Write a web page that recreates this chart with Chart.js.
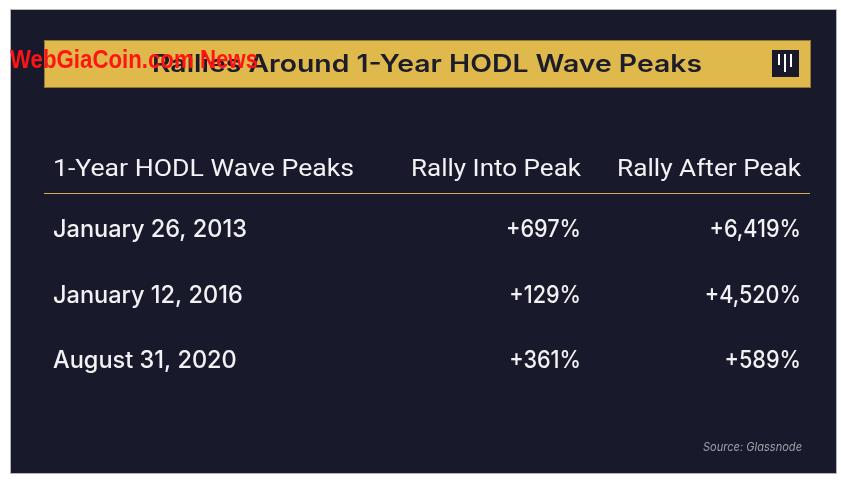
<!DOCTYPE html>
<html>
  <head>
    <script src="https://cdn.jsdelivr.net/npm/chart.js@4.4.1/dist/chart.umd.min.js"></script>
    <style>
      html, body { margin: 0; padding: 0; background: #fff; }
      #wrap { width: 841px; height: 481px; }
    </style>
  </head>
  <body>
    <div id="wrap"><canvas id="canvas" width="841" height="481"></canvas></div>
    <script>
      const title = 'Rallies Around 1-Year HODL Wave Peaks';
      const watermark = 'WebGiaCoin.com News';
      const columns = ['1-Year HODL Wave Peaks', 'Rally Into Peak', 'Rally After Peak'];
      const peaks = ['January 26, 2013', 'January 12, 2016', 'August 31, 2020'];
      const rallyInto = [697, 129, 361];
      const rallyAfter = [6419, 4520, 589];
      const source = 'Source: Glassnode';

      const pct = (v) => '+' + v.toLocaleString('en-US') + '%';

      // column right edges (value columns are right aligned)
      const colRight = [null, 581, 801];

      // draw text; fit.width squeezes to a target width, fit.sx scales by a factor
      function text(ctx, str, x, y, font, color, align, fit) {
        ctx.save();
        ctx.font = font;
        ctx.fillStyle = color;
        ctx.textBaseline = 'middle';
        const w = ctx.measureText(str).width;
        let sx = 1;
        if (fit && fit.width) sx = fit.width / w;
        if (fit && fit.sx) sx = fit.sx;
        const left = align === 'right' ? x - w * sx : x;
        ctx.translate(left, y);
        ctx.scale(sx, 1);
        ctx.textAlign = 'left';
        ctx.fillText(str, 0, 0);
        ctx.restore();
      }

      const tablePlugin = {
        id: 'table',
        beforeDraw(chart) {
          const ctx = chart.ctx;
          ctx.save();
          ctx.fillStyle = '#ffffff';
          ctx.fillRect(0, 0, chart.width, chart.height);
          ctx.fillStyle = '#181a2b';
          ctx.fillRect(11, 10, 825, 463);
          ctx.strokeStyle = '#b4b4bc';
          ctx.lineWidth = 1;
          ctx.strokeRect(10.5, 9.5, 826, 464);

          // gold title bar
          ctx.fillStyle = '#e0b94c';
          ctx.fillRect(44, 40, 767, 48);
          ctx.strokeStyle = '#8f7a3c';
          ctx.strokeRect(44.5, 40.5, 766, 47);

          // logo
          ctx.fillStyle = '#181a2b';
          ctx.fillRect(772, 50, 27, 27);
          ctx.fillStyle = '#ffffff';
          ctx.fillRect(778, 54, 2, 11);
          ctx.fillRect(784, 54, 2, 18);
          ctx.fillRect(790, 54, 2, 13);
          ctx.restore();
        },
        afterDraw(chart) {
          const ctx = chart.ctx;
          const y = chart.scales.y;
          const area = chart.chartArea;
          const headY = area.top - 26;

          text(ctx, title, 152, 65, '600 24px "Inter"', '#1c1c2a', 'left', { width: 550 });

          text(ctx, columns[0], area.left, headY, '400 24px "Roboto"', '#f2f2f4', 'left', { width: 301 });
          text(ctx, columns[1], colRight[1], headY, '400 24px "Roboto"', '#f2f2f4', 'right', { width: 170 });
          text(ctx, columns[2], colRight[2], headY, '400 24px "Roboto"', '#f2f2f4', 'right', { width: 184 });

          ctx.save();
          ctx.strokeStyle = '#cfae55';
          ctx.lineWidth = 1;
          ctx.beginPath();
          ctx.moveTo(44, headY + 23.5);
          ctx.lineTo(810, headY + 23.5);
          ctx.stroke();
          ctx.restore();

          peaks.forEach((p, i) => {
            const py = y.getPixelForValue(i) + 1;
            text(ctx, p, area.left, py, '500 24px "Inter"', '#f2f2f4', 'left', { sx: 0.98 });
            text(ctx, pct(rallyInto[i]), colRight[1], py, '500 24px "Inter"', '#f2f2f4', 'right', { sx: 0.9 });
            text(ctx, pct(rallyAfter[i]), colRight[2], py, '500 24px "Inter"', '#f2f2f4', 'right', { sx: 0.9 });
          });

          text(ctx, source, 802, 447, 'italic 12px "Inter"', '#a0a0aa', 'right', { width: 99 });

          text(ctx, watermark, 10, 61, 'bold 26px "Liberation Sans"', '#ff1414', 'left', { width: 248 });
        }
      };

      new Chart(document.getElementById('canvas'), {
        type: 'bar',
        data: {
          labels: peaks,
          datasets: [
            { label: 'Rally Into Peak', data: rallyInto, backgroundColor: 'rgba(0,0,0,0)' }
          ]
        },
        options: {
          responsive: false,
          animation: false,
          indexAxis: 'y',
          layout: { padding: { left: 53, right: 40, top: 196, bottom: 88 } },
          plugins: { legend: { display: false }, tooltip: { enabled: false } },
          scales: {
            x: { display: false },
            y: { display: false }
          }
        },
        plugins: [tablePlugin]
      });
    </script>
  </body>
</html>
